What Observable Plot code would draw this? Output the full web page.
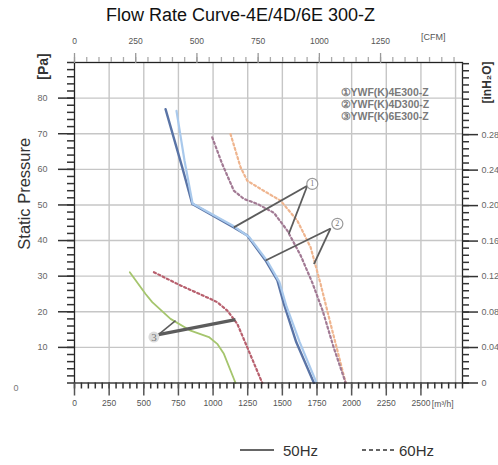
<!DOCTYPE html>
<html><head><meta charset="utf-8">
<script src="https://cdn.jsdelivr.net/npm/d3@7"></script>
<script src="https://cdn.jsdelivr.net/npm/@observablehq/plot@0.6"></script>
<style>
body{margin:0;background:#fff;font-family:"Liberation Sans",Arial,sans-serif;}
#wrap{position:relative;width:498px;height:465px;overflow:hidden;}
#legend{position:absolute;left:240px;top:441px;height:18px;font-size:15px;color:#333;display:flex;align-items:center;white-space:nowrap;}
</style></head><body><div id="wrap"></div>
<script>
// ---- texts ----
const title = "Flow Rate Curve-4E/4D/6E 300-Z";
const yTitle = "Static Pressure";
const models = ["YWF(K)4E300-Z", "YWF(K)4D300-Z", "YWF(K)6E300-Z"];
const modelMarks = ["①", "②", "③"];
const freqLabels = ["50Hz", "60Hz"];

// ---- axis ticks ----
const flowTicks = [0, 250, 500, 750, 1000, 1250, 1500, 1750, 2000, 2250, 2500];   // m³/h
const flowGrid = [250, 500, 750, 1000, 1250, 1500, 1750, 2000, 2250, 2500, 2750];
const flowMinor = d3.range(0, 2801, 50);
const cfmTicks = [0, 250, 500, 750, 1000, 1250];                                  // CFM
const cfmMinor = d3.range(0, 1551, 50);
const cfmToFlow = 1.767;   // CFM axis spacing as drawn on the sheet
const pressureTicks = [10, 20, 30, 40, 50, 60, 70, 80];                          // Pa
const pressureMinor = d3.range(0, 91, 2);
const inH2OTicks = [0, 0.04, 0.08, 0.12, 0.16, 0.20, 0.24, 0.28];
const inH2OMinor = d3.range(0, 0.361, 0.008);
const paPerInH2O = 249.09;

// ---- curves: [flow m³/h, static pressure Pa] ----
const curve4E50 = [[657,76.9],[778,60.5],[850,50.3],[1150,43.7],[1247,41.4],[1379,34.4],[1464,28.8],[1511,22.2],[1600,11.5],[1728,0]];
const curve4D50 = [[736,76.4],[794,62.4],[852,50.4],[1150,44.0],[1260,41.0],[1392,34.2],[1478,28.4],[1530,21.5],[1625,11.5],[1747,0]];
const curve4E60 = [[994,69.0],[1066,61.5],[1150,54.0],[1222,51.7],[1319,50.3],[1439,47.8],[1536,42.8],[1632,35.8],[1718,28.0],[1791,20.3],[1870,10.0],[1957,0]];
const curve4D60 = [[1126,69.9],[1199,60.5],[1247,56.8],[1343,54.5],[1487,51.2],[1608,45.6],[1704,38.1],[1776,27.8],[1848,16.6],[1957,0]];
const curve6E50 = [[399,31.1],[513,25.0],[561,22.7],[693,18.0],[838,14.7],[970,12.9],[1030,11.0],[1078,8.2],[1162,0]];
const curve6E60 = [[573,31.1],[765,27.4],[982,23.6],[1030,22.7],[1103,20.3],[1175,16.6],[1247,10.0],[1355,0]];

// ---- callouts ----
const callouts = [
  {n: "1", x: 1716, y: 55.9},
  {n: "2", x: 1897, y: 44.7},
  {n: "3", x: 573, y: 12.9}
];
const leaders = [
  {x1: 1680, y1: 55.4, x2: 1150, y2: 43.7, w: 1.8},
  {x1: 1680, y1: 55.4, x2: 1547, y2: 41.9, w: 1.8},
  {x1: 1848, y1: 43.4, x2: 1379, y2: 34.4, w: 1.8},
  {x1: 1848, y1: 43.4, x2: 1728, y2: 33.4, w: 1.8},
  {x1: 606, y1: 13.6, x2: 729, y2: 17.5, w: 1.5},
  {x1: 606, y1: 13.6, x2: 1162, y2: 17.8, w: 3.4}
];

const font = "Liberation Sans, Arial, sans-serif";
const dot = "2.2,2.6";
const lineOpt = (stroke, w, dash) => ({x: d => d[0], y: d => d[1], stroke, strokeWidth: w, strokeDasharray: dash, curve: "linear"});

// layout
const W = 498, H = 465, mL = 74, mR = 36, mT = 62, mB = 82.5;
const xMax = 2800, yMax = 90;
const pxPerFlow = (W - mL - mR) / xMax;
const pxPerPa = (H - mT - mB) / yMax;

const chart = Plot.plot({
  width: W, height: H,
  marginLeft: mL, marginRight: mR, marginTop: mT, marginBottom: mB,
  x: {domain: [0, xMax]},
  y: {domain: [0, yMax]},
  style: {fontFamily: font, background: "#fff", overflow: "visible"},
  marks: [
    Plot.gridX({ticks: flowGrid, stroke: "#c6c6c6", strokeOpacity: 1, strokeWidth: 1.4}),
    Plot.gridY({ticks: pressureTicks, stroke: "#c6c6c6", strokeOpacity: 1, strokeWidth: 1.4}),
    // curves
    Plot.line(curve6E50, lineOpt("#a5c56d", 1.8)),
    Plot.line(curve6E60, lineOpt("#b8606e", 2.2, dot)),
    Plot.line(curve4D60, lineOpt("#efb58f", 2.2, dot)),
    Plot.line(curve4E60, lineOpt("#a27a94", 2.2, dot)),
    Plot.line(curve4E50, lineOpt("#5a74a6", 2.4)),
    Plot.line(curve4D50, lineOpt("#a9c9ec", 2.2)),
    // callout leaders
    Plot.link(leaders, {x1: "x1", y1: "y1", x2: "x2", y2: "y2", stroke: "#5c5c5c", strokeWidth: d => d.w}),
    Plot.dot(callouts, {x: "x", y: "y", r: 5.5, fill: d => d.n === "3" ? "#dcdcdc" : "#fff", stroke: d => d.n === "3" ? "none" : "#999", strokeWidth: 1.2}),
    Plot.text(callouts, {x: "x", y: "y", text: "n", fontSize: d => d.n === "3" ? 11 : 8, fill: "#777", fontFamily: "Liberation Serif, serif"}),
    // frame
    Plot.frame({stroke: "#222", strokeWidth: 1.3}),
    // minor ticks
    Plot.ruleX(flowMinor, {x: d => d, y1: 0, y2: -6 / pxPerPa, stroke: "#333", strokeWidth: 1.5}),
    Plot.ruleX(cfmMinor, {x: d => d * cfmToFlow, y1: yMax, y2: yMax + 5 / pxPerPa, stroke: "#aaa", strokeWidth: 1.3}),
    Plot.ruleY(pressureMinor, {y: d => d, x1: 0, x2: -7 / pxPerFlow, stroke: "#333", strokeWidth: 1.5}),
    Plot.ruleY(inH2OMinor.map(v => v * paPerInH2O).filter(v => v <= yMax), {y: d => d, x1: xMax, x2: xMax + 7 / pxPerFlow, stroke: "#333", strokeWidth: 1.5}),
    // major axes
    Plot.axisX({anchor: "bottom", ticks: flowTicks, tickSize: 13, tickPadding: 4, tickFormat: d => String(d), fontSize: 8.5, fill: "#555", stroke: "#555", strokeWidth: 1.5, label: null}),
    Plot.axisX({anchor: "top", ticks: cfmTicks.map(c => c * cfmToFlow), tickSize: 10, tickPadding: 9, tickFormat: d => String(Math.round(d / cfmToFlow)), fontSize: 8.5, fill: "#555", stroke: "#999", strokeWidth: 1.3, label: null}),
    Plot.axisY({anchor: "left", ticks: pressureTicks, tickSize: 16, tickPadding: 11, tickFormat: d => String(d), fontSize: 9, fill: "#666", stroke: "#333", strokeWidth: 1.5, label: null}),
    Plot.axisY({anchor: "right", ticks: inH2OTicks.map(v => v * paPerInH2O), tickSize: 15, tickPadding: 4, tickFormat: d => { const v = d / paPerInH2O; return v === 0 ? "0" : v.toFixed(2); }, fontSize: 9, fill: "#666", stroke: "#333", strokeWidth: 1.5, label: null}),
    // titles & labels
    Plot.text([title], {frameAnchor: "top", lineAnchor: "middle", dx: -28, dy: -47, fontSize: 18, fill: "#111"}),
    Plot.text(["[CFM]"], {frameAnchor: "top-right", lineAnchor: "middle", dx: -17, dy: -25, fontSize: 9, fill: "#555"}),
    Plot.text(["[m³/h]"], {frameAnchor: "bottom-right", lineAnchor: "middle", dx: -9, dy: 21.5, fontSize: 8.5, fill: "#555"}),
    Plot.text([yTitle], {frameAnchor: "left", lineAnchor: "middle", textAnchor: "middle", rotate: -90, dx: -50, dy: -29, fontSize: 16.5, fill: "#333"}),
    Plot.text(["[Pa]"], {frameAnchor: "top-left", lineAnchor: "middle", textAnchor: "middle", rotate: -90, dx: -31, dy: 4, fontSize: 14, fontWeight: "bold", fill: "#333"}),
    Plot.text(["[inH₂O]"], {frameAnchor: "top-right", lineAnchor: "middle", textAnchor: "middle", rotate: -90, dx: 25, dy: 20, fontSize: 12, fontWeight: "bold", fill: "#333"}),
    Plot.text(["0"], {frameAnchor: "bottom-left", lineAnchor: "middle", dx: -61, dy: 5, fontSize: 9, fill: "#777"}),
    Plot.text([models.map((m, i) => modelMarks[i] + m).join("\n")], {frameAnchor: "top-left", textAnchor: "start", lineAnchor: "top", lineHeight: 1.15, dx: 266, dy: 25, fontSize: 10.5, fontWeight: "bold", fill: "#7a7a7a"})
  ]
});

const wrap = document.getElementById("wrap");
wrap.appendChild(chart);

// frequency legend (line styles)
const legend = document.createElement("div");
legend.id = "legend";
const styles = [{dash: null, gapBefore: 0, w: 34, gapAfter: 9}, {dash: "4,3", gapBefore: 44, w: 32, gapAfter: 5}];
freqLabels.forEach((lab, i) => {
  const s = styles[i];
  const sv = document.createElementNS("http://www.w3.org/2000/svg", "svg");
  sv.setAttribute("width", s.w); sv.setAttribute("height", 10);
  sv.style.marginLeft = s.gapBefore + "px";
  const ln = document.createElementNS("http://www.w3.org/2000/svg", "line");
  ln.setAttribute("x1", 0); ln.setAttribute("x2", s.w); ln.setAttribute("y1", 5); ln.setAttribute("y2", 5);
  ln.setAttribute("stroke", "#333"); ln.setAttribute("stroke-width", 1.5);
  if (s.dash) ln.setAttribute("stroke-dasharray", s.dash);
  sv.appendChild(ln);
  const sp = document.createElement("span");
  sp.textContent = lab; sp.style.marginLeft = s.gapAfter + "px";
  legend.appendChild(sv); legend.appendChild(sp);
});
wrap.appendChild(legend);
</script></body></html>
